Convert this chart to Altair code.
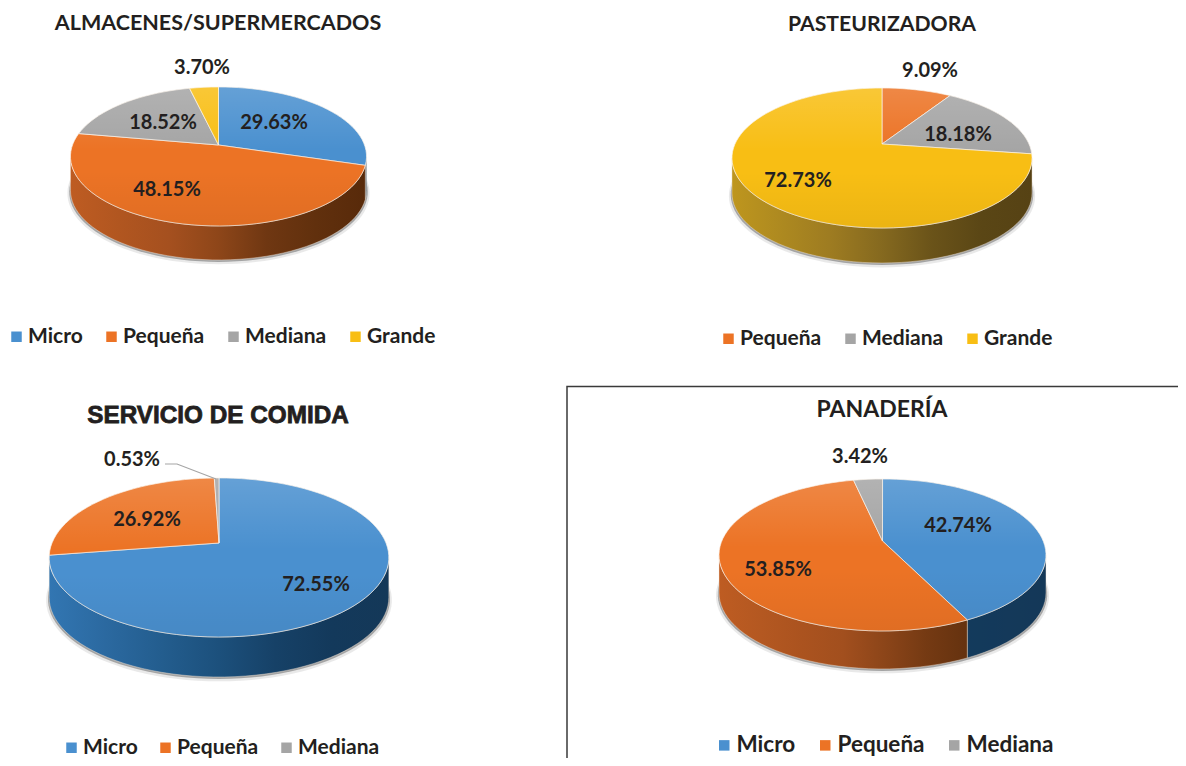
import math
import altair as alt
import pandas as pd

# ---- values ----
titles = ["ALMACENES/SUPERMERCADOS", "PASTEURIZADORA", "SERVICIO DE COMIDA", "PANADERÍA"]
categories_a = ["Micro", "Pequeña", "Mediana", "Grande"]
values_a = [29.63, 48.15, 18.52, 3.70]
categories_b = ["Pequeña", "Mediana", "Grande"]
values_b = [9.09, 18.18, 72.73]
categories_c = ["Micro", "Pequeña", "Mediana"]
values_c = [72.55, 26.92, 0.53]
categories_d = ["Micro", "Pequeña", "Mediana"]
values_d = [42.74, 53.85, 3.42]

# ---- styles ----
TOP = {"Micro": "#4A90CF", "Pequeña": "#EC7325", "Mediana": "#A5A5A5", "Grande": "#F8BE14"}
RAMP = {
    "Micro": [(0.0, (50, 118, 178)), (0.45, (30, 84, 130)), (0.75, (19, 58, 92)), (1.0, (20, 56, 88))],
    "Pequeña": [(0.0, (190, 92, 34)), (0.4, (160, 78, 30)), (0.7, (104, 52, 16)), (1.0, (88, 42, 10))],
    "Mediana": [(0.0, (130, 130, 130)), (1.0, (70, 70, 70))],
    "Grande": [(0.0, (190, 150, 30)), (0.4, (150, 118, 34)), (0.75, (92, 72, 22)), (1.0, (86, 66, 20))],
}
INK = "#231F20"
FONT = "Lato"

# ---- layout: the drawing uses the picture's own pixel frame ----
PIES = [
    dict(title=0, cats=categories_a, vals=values_a, cx=218.5, ay=145, A=146, B=67.6, k=0.165, depth=34,
         title_pos=(218, 23), title_size=21.5,
         labels=[(274, 122), (167, 189), (163, 122), (202, 67)],
         legend=(10, 326), legend_size=21, gap=18),
    dict(title=1, cats=categories_b, vals=values_b, cx=882, ay=144, A=147, B=67.2, k=0.2, depth=35,
         title_pos=(882, 24), title_size=21.2,
         labels=[(930, 70), (958, 134), (798, 180)],
         legend=(722, 328), legend_size=21, gap=18),
    dict(title=2, cats=categories_c, vals=values_c, cx=219, ay=543, A=167, B=76.9, k=0.182, depth=40,
         title_pos=(218, 415), title_size=24.3,
         labels=[(316, 584), (147, 519), (132, 459)],
         legend=(65, 737), legend_size=21, gap=17),
    dict(title=3, cats=categories_d, vals=values_d, cx=882.5, ay=541, A=160.7, B=73.4, k=0.184, depth=38,
         title_pos=(882, 409), title_size=23,
         labels=[(958, 525), (778, 569), (860, 456)],
         legend=(717, 734), legend_size=22.5, gap=18),
]

W, H = 1170, 750
X = alt.X("x:Q", scale=alt.Scale(domain=[8, 8 + W]), axis=None)
Y = alt.Y("y:Q", scale=alt.Scale(domain=[8 + H, 8]), axis=None)


def rim(p, deg, dy=0.0):
    t = math.radians(deg)
    u, v = math.sin(t), math.cos(t)
    w = 1 + p["k"] * v
    return p["cx"] + p["A"] * u / w, p["ay"] - p["B"] * v / w + dy


def sweep(a, b, step=3.0):
    n = max(2, int(abs(b - a) / step) + 1)
    return [a + (b - a) * i / (n - 1) for i in range(n)]


def ramp_colour(cat, t):
    s = RAMP[cat]
    t = max(0.0, min(1.0, t))
    for (t0, c0), (t1, c1) in zip(s, s[1:]):
        if t <= t1:
            f = (t - t0) / (t1 - t0)
            return "#%02x%02x%02x" % tuple(round(a + (b - a) * f) for a, b in zip(c0, c1))
    return "#%02x%02x%02x" % s[-1][1]


def polygon(points):
    return [dict(x=x, y=y, i=i) for i, (x, y) in enumerate(points)]


def filled(points, fill, stroke=None, sw=0.0, opacity=1.0, so=1.0):
    kw = dict(interpolate="linear-closed", fill=fill, opacity=opacity)
    kw.update(stroke=stroke, strokeWidth=sw, strokeOpacity=so) if stroke else kw.update(strokeWidth=0)
    return alt.Chart(alt.Data(values=polygon(points))).mark_line(**kw).encode(
        x=X, y=Y, order=alt.Order("i:Q")
    )


layers = []

for p in PIES:
    circle = [rim(p, d) for d in sweep(0, 360)]
    # soft shadow under the pie
    for grow, dy, col, op in [(3.0, p["depth"] + 2.5, "#9a9a9a", 0.22), (1.2, p["depth"] + 1.2, "#6b6b6b", 0.55)]:
        q = dict(p, A=p["A"] + grow, B=p["B"] + grow * 0.5)
        layers.append(filled([rim(q, d, dy) for d in sweep(0, 360)], col, opacity=op))

    theta_r = math.degrees(math.acos(-p["k"]))
    theta_l = 360 - theta_r
    left, right = p["cx"] - p["A"] * 1.02, p["cx"] + p["A"] * 1.02

    # side walls
    start = 0.0
    rows = []
    for cat, val in zip(p["cats"], p["vals"]):
        end = start + val * 3.6
        a, b = max(start, theta_r), min(end, theta_l)
        if b > a:
            arc = sweep(a, b)
            upper = [rim(p, d) for d in arc]
            lower = [rim(p, d, p["depth"]) for d in reversed(arc)]
            pts = upper + lower
            x0 = min(x for x, _ in pts)
            x1 = max(x for x, _ in pts)
            stops = []
            for i in range(7):
                f = i / 6
                stops.append(alt.GradientStop(
                    color=ramp_colour(cat, (x0 + (x1 - x0) * f - left) / (right - left)), offset=f))
            grad = alt.LinearGradient(gradient="linear", x1=0, x2=1, y1=0, y2=0, stops=stops)
            layers.append(filled(pts, grad, stroke="#f5e6d8", sw=0.7, so=0.6))
        # top wedge outline, computed from the share
        pts = [(p["cx"], p["ay"])] + [rim(p, d) for d in sweep(start, end)]
        for i, (x, y) in enumerate(pts):
            rows.append(dict(x=x, y=y, i=i, cat=cat))
        start = end

    colours = [TOP[c] for c in p["cats"]]
    lx, ly = p["legend"]
    tops = (
        alt.Chart(alt.Data(values=rows))
        .mark_line(interpolate="linear-closed", stroke="#fbf3ea", strokeWidth=0.9, strokeOpacity=0.75)
        .encode(
            x=X,
            y=Y,
            order=alt.Order("i:Q"),
            fill=alt.Fill(
                "cat:N",
                scale=alt.Scale(domain=p["cats"], range=colours),
                legend=alt.Legend(
                    title=None,
                    orient="none",
                    direction="horizontal",
                    columns=len(p["cats"]),
                    legendX=lx - 8 - 4,
                    legendY=ly - 8,
                    symbolType="square",
                    symbolSize=110,
                    symbolStrokeWidth=0,
                    labelFont=FONT,
                    labelFontSize=p["legend_size"],
                    labelFontWeight="bold",
                    labelColor=INK,
                    labelOffset=1,
                    columnPadding=p["gap"],
                    padding=0,
                    labelLimit=200,
                ),
            ),
        )
    )
    layers.append(tops)

    # sheen across the top face
    sheen = alt.LinearGradient(
        gradient="linear", x1=0, x2=0, y1=0, y2=1,
        stops=[
            alt.GradientStop(color="rgba(255,255,255,0.15)", offset=0),
            alt.GradientStop(color="rgba(255,255,255,0.0)", offset=0.45),
            alt.GradientStop(color="rgba(0,0,0,0.0)", offset=0.6),
            alt.GradientStop(color="rgba(0,0,0,0.05)", offset=1),
        ],
    )
    layers.append(filled(circle, sheen))

    # value labels
    layers.append(
        alt.Chart(
            pd.DataFrame(
                {
                    "x": [q[0] for q in p["labels"]],
                    "y": [q[1] for q in p["labels"]],
                    "t": ["%.2f%%" % v for v in p["vals"]],
                }
            )
        )
        .mark_text(font=FONT, fontSize=20, fontWeight="bold", color=INK, align="center", baseline="middle", dy=1)
        .encode(x=X, y=Y, text="t:N")
    )

    # title
    tx, ty = p["title_pos"]
    extra = dict(stroke=INK, strokeWidth=0.8) if p["title"] == 2 else {}
    family = "Liberation Sans" if p["title"] == 2 else FONT
    layers.append(
        alt.Chart(pd.DataFrame({"x": [tx], "y": [ty], "t": [titles[p["title"]]]}))
        .mark_text(font=family, fontSize=p["title_size"], fontWeight="bold", color=INK,
                   align="center", baseline="middle", dy=1, **extra)
        .encode(x=X, y=Y, text="t:N")
    )

# leader line of the 0.53 % label
layers.append(
    alt.Chart(pd.DataFrame({"x": [165, 177, 216], "y": [464, 464, 479], "i": [0, 1, 2]}))
    .mark_line(color="#A5A5A5", strokeWidth=1.2)
    .encode(x=X, y=Y, order=alt.Order("i:Q"))
)

# panel frame around PANADERÍA
layers.append(
    alt.Chart(pd.DataFrame({"x": [567, 567, 8 + W], "y": [8 + H, 386.5, 386.5], "i": [0, 1, 2]}))
    .mark_line(color="#3a3a3a", strokeWidth=1.5)
    .encode(x=X, y=Y, order=alt.Order("i:Q"))
)

chart = (
    alt.layer(*layers)
    .resolve_scale(fill="independent")
    .properties(width=W, height=H, padding=0, autosize=alt.AutoSizeParams(type="none"),
                background="white")
    .configure_view(stroke=None)
)

chart.save("out.html", embed_options={"renderer": "svg", "actions": False})
